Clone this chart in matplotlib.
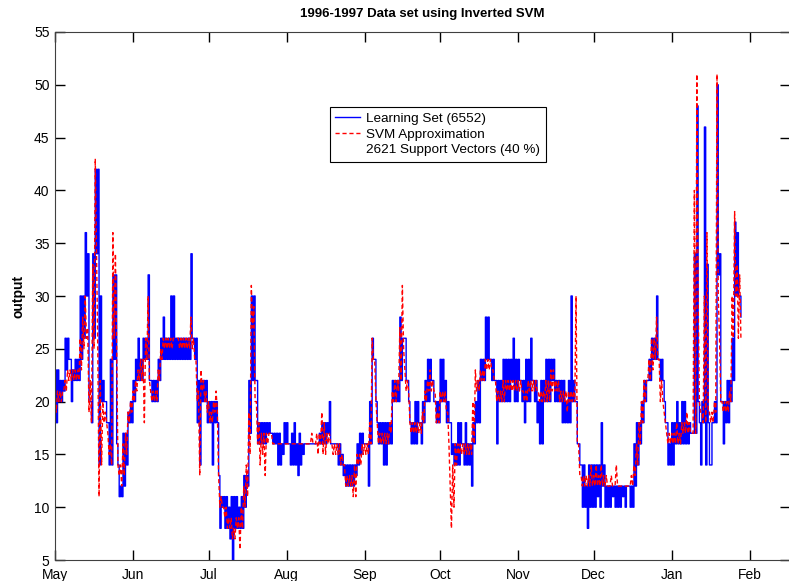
import numpy as np
import pandas as pd
import matplotlib
matplotlib.use('Agg')
import matplotlib.pyplot as plt
import matplotlib.dates as mdates
from matplotlib.lines import Line2D

# Daily high / low of each series (May 1 1996 .. Jan 28 1997)
learn_hi = [
    # May
    23, 23, 22, 22, 26, 26, 24, 23, 24, 24, 30, 30, 36, 34, 20, 34, 42, 42, 30, 22, 20, 18, 24, 32, 32, 14, 12, 17, 17, 19, 20,
    # Jun
    22, 24, 26, 24, 26, 26, 32, 22, 22, 22, 24, 26, 28, 26, 26, 30, 30, 26, 26, 26, 26, 26, 26, 34, 26, 26, 22, 22, 22, 22,
    # Jul
    20, 20, 20, 20, 13, 11, 11, 11, 10, 11, 11, 11, 10, 11, 13, 13, 22, 30, 30, 22, 18, 18, 18, 18, 18, 17, 17, 17, 17, 16, 18,
    # Aug
    18, 16, 17, 18, 16, 17, 16, 16, 16, 16, 16, 16, 16, 17, 18, 18, 18, 20, 16, 16, 16, 16, 15, 14, 14, 14, 14, 14, 16, 17, 17,
    # Sep
    16, 16, 20, 26, 24, 18, 18, 18, 18, 18, 18, 22, 22, 22, 28, 26, 26, 22, 18, 18, 20, 20, 18, 20, 22, 24, 24, 22, 20, 20,
    # Oct
    24, 24, 22, 20, 18, 16, 16, 18, 18, 16, 18, 16, 16, 18, 20, 22, 24, 24, 28, 28, 24, 24, 22, 22, 22, 24, 24, 24, 24, 26, 24,
    # Nov
    24, 22, 22, 24, 24, 26, 22, 22, 20, 22, 22, 24, 24, 24, 24, 22, 22, 22, 22, 20, 22, 30, 22, 20, 16, 14, 14, 12, 14, 14,
    # Dec
    14, 14, 14, 18, 14, 12, 12, 12, 12, 12, 12, 12, 12, 12, 12, 12, 16, 18, 18, 20, 22, 22, 24, 26, 26, 30, 24, 24, 20, 18, 16,
    # Jan
    18, 18, 20, 18, 20, 20, 18, 18, 17, 34, 48, 18, 20, 46, 33, 14, 18, 20, 50, 34, 20, 20, 22, 22, 26, 37, 36, 30,
]
learn_lo = [
    18, 20, 20, 21, 23, 24, 20, 22, 22, 22, 24, 26, 30, 20, 18, 26, 34, 14, 20, 20, 18, 14, 14, 24, 16, 11, 11, 12, 14, 18, 18,
    20, 22, 22, 22, 24, 24, 22, 20, 20, 20, 22, 24, 24, 24, 24, 24, 24, 24, 24, 24, 24, 24, 24, 26, 24, 18, 14, 20, 20, 18,
    18, 14, 18, 18, 8, 10, 8, 8, 7, 5, 8, 8, 8, 8, 10, 12, 17, 22, 22, 16, 16, 16, 16, 17, 17, 16, 16, 14, 14, 15, 16,
    16, 14, 14, 14, 13, 14, 15, 16, 16, 16, 16, 16, 16, 16, 16, 16, 17, 16, 16, 16, 14, 14, 13, 12, 12, 12, 12, 13, 14, 15, 16,
    16, 12, 16, 24, 20, 16, 16, 14, 14, 16, 16, 20, 20, 20, 22, 26, 22, 20, 16, 16, 16, 18, 16, 18, 20, 20, 22, 20, 18, 18,
    20, 20, 18, 18, 15, 14, 14, 14, 16, 14, 14, 14, 12, 16, 18, 18, 22, 22, 24, 24, 22, 22, 16, 20, 20, 20, 20, 20, 22, 20, 20,
    22, 20, 18, 20, 20, 22, 20, 18, 16, 16, 20, 20, 20, 22, 20, 20, 20, 18, 18, 18, 18, 20, 20, 16, 14, 10, 10, 8, 10, 10,
    10, 11, 10, 12, 10, 10, 10, 11, 10, 10, 10, 11, 10, 12, 10, 10, 12, 14, 16, 18, 20, 22, 22, 24, 24, 24, 22, 22, 18, 14, 14,
    14, 16, 16, 16, 16, 16, 16, 17, 17, 17, 20, 14, 18, 14, 18, 14, 18, 18, 32, 20, 16, 18, 18, 20, 22, 30, 30, 28,
]
svm_hi = [
    20, 21, 21, 21, 22, 23, 23, 23, 23, 23, 26, 28, 30, 27, 22, 33, 43, 25, 22, 20, 19, 17, 16, 36, 34, 14, 14, 16, 17, 19, 20,
    21, 22, 23, 24, 24, 26, 30, 21, 21, 21, 23, 25, 26, 26, 26, 26, 26, 26, 26, 26, 26, 26, 26, 28, 26, 24, 21, 23, 22, 21,
    20, 19, 20, 21, 13, 11, 10, 10, 9, 9, 8, 9, 9, 10, 12, 14, 19, 31, 29, 20, 18, 17, 17, 17, 17, 17, 16, 16, 16, 16, 16,
    16, 16, 16, 16, 16, 16, 16, 16, 16, 16, 17, 16, 17, 17, 19, 18, 17, 17, 16, 16, 16, 16, 15, 14, 13, 13, 13, 14, 15, 15, 16,
    16, 16, 18, 26, 24, 18, 17, 17, 17, 17, 18, 21, 22, 22, 27, 31, 23, 22, 18, 18, 18, 18, 18, 19, 21, 22, 23, 22, 21, 19,
    21, 21, 21, 19, 12, 14, 16, 16, 16, 16, 16, 16, 16, 20, 23, 22, 23, 23, 24, 24, 24, 23, 22, 21, 21, 22, 22, 22, 22, 22, 22,
    22, 22, 21, 21, 22, 22, 22, 22, 21, 21, 21, 22, 22, 23, 23, 22, 22, 21, 21, 21, 21, 21, 21, 30, 16, 13, 13, 13, 13, 14,
    13, 14, 13, 14, 13, 13, 12, 13, 12, 14, 12, 12, 12, 12, 12, 13, 14, 16, 18, 20, 22, 22, 24, 26, 26, 28, 24, 22, 19, 17, 17,
    17, 17, 18, 17, 18, 18, 19, 18, 17, 40, 51, 20, 19, 30, 36, 19, 19, 20, 51, 26, 20, 20, 20, 21, 30, 38, 33, 32,
]
svm_lo = [
    19, 20, 20, 21, 21, 22, 22, 22, 22, 22, 23, 25, 26, 19, 18, 25, 34, 11, 14, 18, 18, 15, 14, 26, 25, 13, 12, 13, 15, 18, 19,
    20, 21, 22, 22, 18, 24, 22, 20, 20, 20, 22, 24, 25, 25, 25, 25, 26, 26, 25, 25, 25, 25, 25, 25, 24, 20, 13, 21, 20, 19,
    18, 18, 19, 19, 10, 10, 9, 8, 8, 7, 7, 8, 6, 8, 10, 11, 15, 27, 20, 16, 14, 15, 13, 16, 17, 16, 16, 16, 16, 16, 16,
    16, 16, 16, 16, 16, 16, 16, 16, 16, 16, 16, 16, 15, 16, 15, 15, 16, 16, 15, 15, 15, 14, 14, 12, 12, 12, 11, 11, 14, 14, 15,
    15, 15, 16, 24, 20, 16, 16, 16, 16, 16, 17, 20, 20, 21, 22, 25, 21, 21, 17, 17, 17, 17, 17, 18, 20, 21, 21, 21, 18, 18,
    20, 20, 19, 16, 8, 10, 14, 15, 15, 15, 15, 15, 15, 16, 21, 21, 22, 22, 23, 23, 23, 22, 20, 20, 20, 20, 21, 21, 21, 21, 21,
    21, 21, 20, 20, 21, 21, 21, 21, 20, 20, 20, 20, 20, 21, 21, 21, 20, 20, 20, 19, 20, 20, 20, 16, 13, 12, 12, 12, 12, 12,
    12, 12, 12, 12, 12, 12, 12, 12, 12, 12, 12, 12, 12, 12, 12, 12, 13, 14, 16, 18, 20, 22, 22, 23, 24, 24, 20, 20, 18, 16, 16,
    16, 16, 16, 16, 17, 17, 17, 17, 17, 17, 30, 19, 18, 18, 19, 18, 18, 19, 30, 20, 19, 19, 19, 20, 26, 30, 26, 26,
]
legend_labels = ['Learning Set (6552)', 'SVM Approximation', '2621 Support Vectors (40 %)']

plt.rcParams['font.family'] = ['Liberation Sans', 'DejaVu Sans']

start = pd.Timestamp('1996-05-01')
# two samples per day: high then low
learn = np.column_stack([learn_hi, learn_lo]).ravel()
svm = np.column_stack([svm_hi, svm_lo]).ravel()
t = start + pd.to_timedelta(np.arange(len(learn)) * 12, unit='h')

fig = plt.figure(figsize=(7.89, 5.81), dpi=100)
ax = fig.add_axes([55 / 789, 21 / 581, 735 / 789, 528 / 581])

ax.step(t, learn, where='post', color='b', lw=1.0)
ax.plot(t, svm, color='r', ls=(0, (3, 2)), lw=1.0)

ax.set_ylim(5, 55)
ax.set_yticks(range(5, 56, 5))
ax.set_xlim(start, pd.Timestamp('1997-02-17'))
ax.xaxis.set_major_locator(mdates.MonthLocator())
ax.xaxis.set_major_formatter(mdates.DateFormatter('%b'))
ax.tick_params(direction='in', top=True, right=True, length=7, width=1,
               labelsize=10)
ax.tick_params(axis='x', pad=5.5)
ax.tick_params(axis='y', pad=4)
for s in ax.spines.values():
    s.set_color('#404040')

ax.set_ylabel('output', fontsize=10, fontweight='bold', labelpad=6)
fig.text(422 / 789, 1 - 14 / 581, '1996-1997 Data set using Inverted SVM',
         ha='center', va='center', fontsize=9.5, fontweight='bold')

handles = [Line2D([], [], color='b', lw=1.0),
           Line2D([], [], color='r', ls=(0, (3, 2)), lw=1.0),
           Line2D([], [], ls='none')]
leg = ax.legend(handles, legend_labels, loc='upper left',
                bbox_to_anchor=((330 - 55) / 735, (560 - 107) / 528),
                borderaxespad=0, fontsize=9.7, handlelength=1.8,
                handletextpad=0.5, labelspacing=0.25, borderpad=0.4,
                fancybox=False, framealpha=1, edgecolor='black')
leg.get_frame().set_linewidth(0.8)

fig.savefig('out.png', dpi=100)
